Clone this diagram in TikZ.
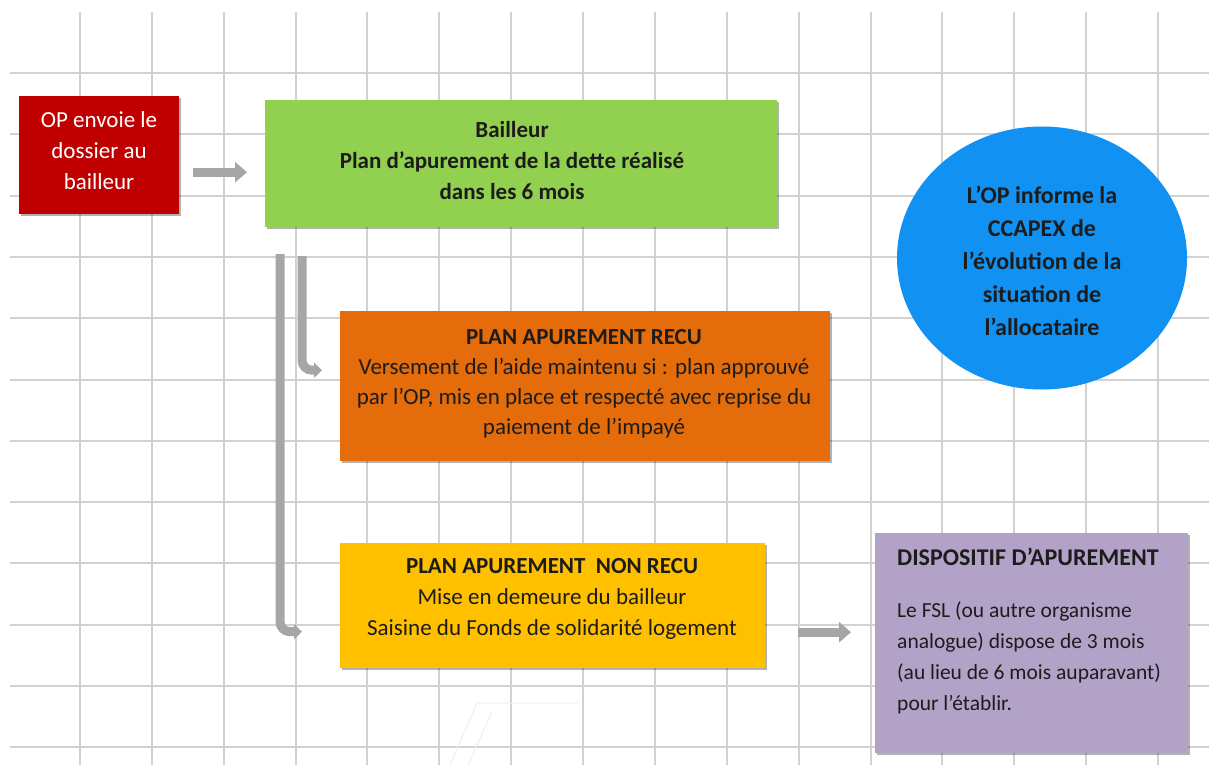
\documentclass[tikz,border=0pt]{standalone}
\usepackage{fontspec}
\setmainfont{Carlito}
\usetikzlibrary{arrows.meta,shadows,shapes.geometric}
\definecolor{gridc}{HTML}{D2D2D2}
\definecolor{boxred}{HTML}{C00000}
\definecolor{boxgreen}{HTML}{92D050}
\definecolor{boxorange}{HTML}{E46C0A}
\definecolor{boxyellow}{HTML}{FFC000}
\definecolor{boxpurple}{HTML}{B2A2C7}
\definecolor{boxblue}{HTML}{1191F1}
\definecolor{conngray}{HTML}{A6A6A6}
\definecolor{txtdark}{HTML}{1C1C1C}
\definecolor{faint}{HTML}{F0F0F0}
\begin{document}
\begin{tikzpicture}[x=1pt,y=-1pt,
  box/.style={rectangle, inner sep=0pt, anchor=north west,
    drop shadow={shadow xshift=1.5pt, shadow yshift=-2pt, opacity=0.3, fill=black}},
  txt/.style={inner sep=0pt, align=center, text=txtdark, font=\fontsize{23}{31}\selectfont},
  btxt/.style={txt, font=\fontsize{23}{31}\selectfont\bfseries},
  bigarrow/.style={draw=conngray, line width=9pt, -{Triangle[length=12pt,width=20pt]}},
  bentarrow/.style={draw=conngray, line width=9pt, rounded corners=10pt, -{Triangle[length=8pt,width=15pt]}},
]
\useasboundingbox (0,0) rectangle (1209,765);
\fill[white] (0,0) rectangle (1209,765);
% grid
\foreach \k in {0,...,11}{
  \draw[gridc, line width=2pt] (10,73+61.3*\k) -- (1209,73+61.3*\k);
}
\foreach \k in {0,...,15}{
  \draw[gridc, line width=2pt] (80+71.87*\k,12) -- (80+71.87*\k,765);
}
% faint artefact
\draw[faint, line width=1pt] (450,765) -- (477,703) -- (578,703);
\draw[faint, line width=1pt] (468,765) -- (492,712);

% boxes
\node[box, fill=boxred, minimum width=160pt, minimum height=118pt] (red) at (19,96) {};
\node[box, fill=boxgreen, minimum width=512pt, minimum height=127pt] (green) at (265,100) {};
\node[box, fill=boxorange, minimum width=490pt, minimum height=150pt] (orange) at (340,311) {};
\node[box, fill=boxyellow, minimum width=425pt, minimum height=125pt] (yellow) at (340,543) {};
\node[box, fill=boxpurple, minimum width=313pt, minimum height=220pt] (purple) at (875,533) {};
\node[ellipse, fill=boxblue, inner sep=0pt, minimum width=290pt, minimum height=263pt] (circ) at (1042,258) {};

% texts
\node[txt, text=white] (redtxt) at (99,151) {OP envoie le\\dossier au\\bailleur};
\node[btxt] (greentxt) at (512,161) {Bailleur\\Plan d’apurement de la dette réalisé\\dans les 6 mois};
\node[txt, font=\fontsize{23}{30}\selectfont] (orangetxt) at (584,384) {\textbf{PLAN APUREMENT RECU}\\Versement de l’aide maintenu si : plan approuvé\\par l’OP, mis en place et respecté avec reprise du\\paiement de l’impayé};
\node[txt] (yellowtxt) at (552,599) {\textbf{PLAN APUREMENT\ \ NON RECU}\\Mise en demeure du bailleur\\Saisine du Fonds de solidarité logement};
\node[btxt, anchor=west, font=\fontsize{24}{31}\selectfont\bfseries] (purpletitle) at (897,557) {DISPOSITIF D’APUREMENT};
\node[txt, anchor=north west, align=left, font=\fontsize{21.5}{31}\selectfont] (purpletxt) at (897,602) {Le FSL (ou autre organisme\\analogue) dispose de 3 mois\\(au lieu de 6 mois auparavant)\\pour l’établir.};
\node[btxt, font=\fontsize{24}{33}\selectfont\bfseries] (circtxt) at (1042,261) {L’OP informe la\\CCAPEX de\\l’évolution de la\\situation de\\l’allocataire};

% connectors
\coordinate (s1) at (280,254);
\coordinate (s2) at (302,256);
\draw[bigarrow, shorten <=14pt, shorten >=18pt] ([yshift=-17pt]red.east) -- ([yshift=-17pt]red.east -| green.west);
\draw[bigarrow, shorten <=33pt, shorten >=24pt] ([yshift=-26.5pt]yellow.east) -- ([yshift=-26.5pt]yellow.east -| purple.west);
\draw[bentarrow, shorten >=18pt] (s2) |- ([yshift=16pt]orange.west);
\draw[bentarrow, shorten >=38pt] (s1) |- ([yshift=-26pt]yellow.west);
\end{tikzpicture}
\end{document}
